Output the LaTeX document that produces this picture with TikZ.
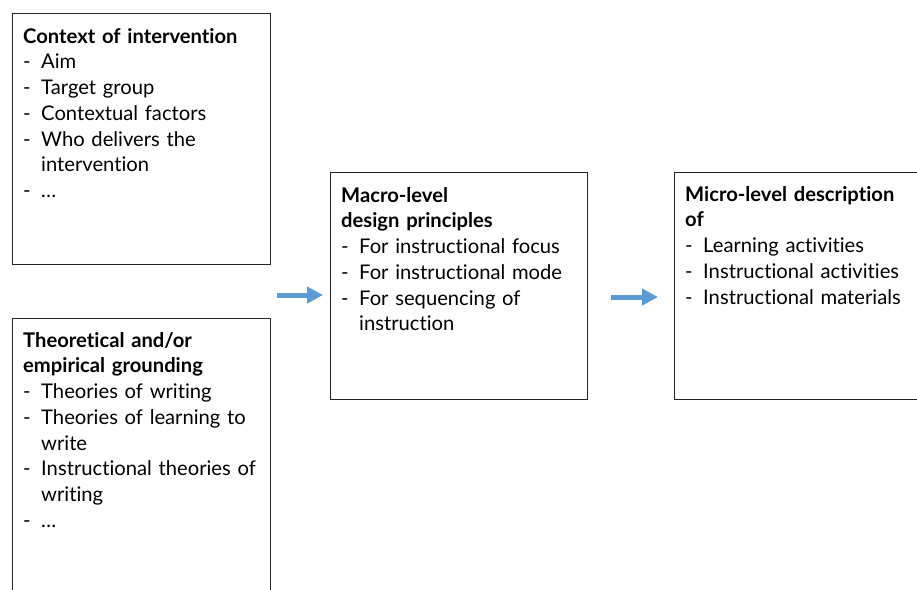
\documentclass[tikz,border=0pt]{standalone}
\usepackage{fontspec}
\setmainfont{Lato}[Ligatures={NoCommon,NoRare,NoContextual}]
\usetikzlibrary{arrows.meta}
\definecolor{arrowblue}{HTML}{5B9BD5}
\definecolor{boxline}{HTML}{262626}
\newcommand{\itm}[1]{\par\noindent\hangindent=18pt\hangafter=1\makebox[18pt][l]{-}#1}
\newcommand{\hd}[1]{\noindent\rule{0pt}{15pt}\textbf{#1}}
\tikzset{
  boxnode/.style={draw=boxline, line width=1.1pt, rectangle, inner sep=0pt, anchor=north west},
  txt/.style={anchor=north west, inner sep=0pt, text width=260pt,
    font=\fontsize{20.2}{25.7}\selectfont},
  arr/.style={draw=arrowblue, line width=5pt, -{Triangle[length=16pt,width=16pt]}}
}
\begin{document}
\begin{tikzpicture}[x=1pt,y=-1pt]
\useasboundingbox (0,0) rectangle (917,589);
% boxes
\node[boxnode, minimum width=258pt, minimum height=251pt] (A) at (12,13) {};
\node[boxnode, minimum width=258pt, minimum height=290pt] (B) at (12,318) {};
\node[boxnode, minimum width=257pt, minimum height=227pt] (C) at (330,172) {};
\node[boxnode, minimum width=260pt, minimum height=227pt] (D) at (674,172) {};
% texts
\node[txt] (tA) at (23,28) {\raggedright\hd{Context of intervention}
\itm{Aim}
\itm{Target group}
\itm{Contextual factors}
\itm{Who delivers the\newline intervention}
\itm{\dots}\par};
\node[txt] (tB) at (23,332) {\raggedright\hd{Theoretical and/or}\newline\textbf{empirical grounding}
\itm{Theories of writing}
\itm{Theories of learning to\newline write}
\itm{Instructional theories of\newline writing}
\itm{\dots}\par};
\node[txt] (tC) at (341,187) {\raggedright\hd{Macro-level}\newline\textbf{design principles}
\itm{For instructional focus}
\itm{For instructional mode}
\itm{For sequencing of\newline instruction}\par};
\node[txt] (tD) at (685,186) {\raggedright\hd{Micro-level description}\newline\textbf{of}
\itm{Learning activities}
\itm{Instructional activities}
\itm{Instructional materials}\par};
% arrows
\coordinate (a1s) at (277,295);
\coordinate (a1e) at (323,295);
\coordinate (a2s) at (611,297);
\coordinate (a2e) at (658,297);
\draw[arr] (a1s) -- (a1e);
\draw[arr] (a2s) -- (a2e);
\end{tikzpicture}
\end{document}
